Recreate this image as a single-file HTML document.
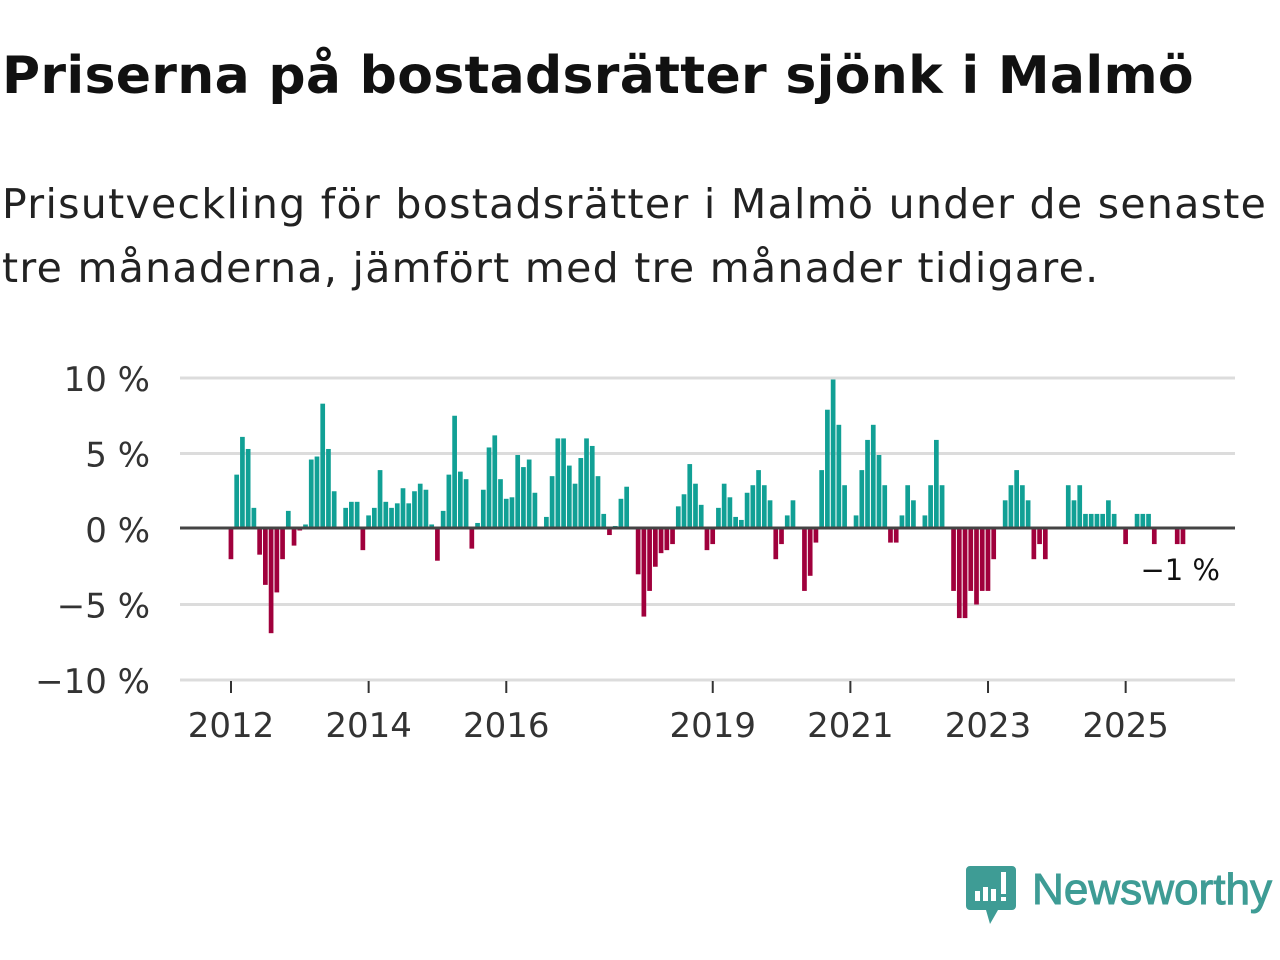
<!DOCTYPE html>
<html><head><meta charset="utf-8">
<style>
body{margin:0;width:1280px;height:960px;background:#fff;overflow:hidden;font-family:"DejaVu Sans","Liberation Sans",sans-serif;}
#title{position:absolute;left:2px;top:44px;font-size:52px;font-weight:bold;color:#111;letter-spacing:0.3px;white-space:nowrap;margin:0;line-height:64px}
#sub{position:absolute;left:2px;top:172px;font-size:41px;line-height:64px;color:#222;white-space:nowrap;margin:0;letter-spacing:1.3px}
svg{position:absolute;left:0;top:0}
</style></head><body>
<h1 id="title">Priserna på bostadsrätter sjönk i Malmö</h1>
<p id="sub">Prisutveckling för bostadsrätter i Malmö under de senaste<br>tre månaderna, jämfört med tre månader tidigare.</p>
<svg id="chart" width="1280" height="960"></svg>
<script>
const startYear = 2012;
const values = [
-2,3.6,6.1,5.3,1.4,-1.7,-3.7,-6.9,-4.2,-2,1.2,-1.1,
-0.1,0.3,4.6,4.8,8.3,5.3,2.5,0,1.4,1.8,1.8,-1.4,
0.9,1.4,3.9,1.8,1.4,1.7,2.7,1.7,2.5,3.0,2.6,0.3,
-2.1,1.2,3.6,7.5,3.8,3.3,-1.3,0.4,2.6,5.4,6.2,3.3,
2.0,2.1,4.9,4.1,4.6,2.4,0,0.8,3.5,6.0,6.0,4.2,
3.0,4.7,6.0,5.5,3.5,1.0,-0.4,0.2,2.0,2.8,0,-3,
-5.8,-4.1,-2.5,-1.6,-1.4,-1.0,1.5,2.3,4.3,3.0,1.6,-1.4,
-1.0,1.4,3.0,2.1,0.8,0.6,2.4,2.9,3.9,2.9,1.9,-2,
-1,0.9,1.9,0,-4.1,-3.1,-0.9,3.9,7.9,9.9,6.9,2.9,
0,0.9,3.9,5.9,6.9,4.9,2.9,-0.9,-0.9,0.9,2.9,1.9,
0,0.9,2.9,5.9,2.9,0,-4.1,-5.9,-5.9,-4.1,-5.0,-4.1,
-4.1,-2.0,0,1.9,2.9,3.9,2.9,1.9,-2,-1,-2,0,
0,0,2.9,1.9,2.9,1,1,1,1,1.9,1,0,
-1,0,1,1,1,-1,0,0,0,-1,-1
];
const yTicks = [10,5,0,-5,-10];
const yTickLabels = ["10 %","5 %","0 %","−5 %","−10 %"];
const xTickYears = [2012,2014,2016,2019,2021,2023,2025];
const lastLabel = "−1 %";

const NS="http://www.w3.org/2000/svg";
const svg=document.getElementById('chart');
const y=v=>529-v*15.1;
const x=m=>231+m*5.735;
function mk(t,a){const e=document.createElementNS(NS,t);for(const k in a)e.setAttribute(k,a[k]);svg.appendChild(e);return e;}
yTicks.forEach((t,i)=>{
  if(t!==0){const g=mk('line',{x1:180,x2:1235,y1:y(t),y2:y(t),stroke:'#dcdcdc','stroke-width':3});
  
  }
  const l=mk('text',{x:150,y:y(t)+13,'text-anchor':'end','font-size':34,fill:'#333','font-family':'DejaVu Sans, Liberation Sans, sans-serif'});
  l.textContent=yTickLabels[i];
  
  
});
values.forEach((v,m)=>{
  const r=mk('rect',{x:x(m)-2.4,width:4.7,y:Math.min(y(v),y(0)),height:Math.abs(y(v)-y(0)),fill:v>=0?'#11a095':'#a0003c'});
  
  
});
const z=mk('line',{x1:180,x2:1235,y1:y(0)-1,y2:y(0)-1,stroke:'#444','stroke-width':3});


xTickYears.forEach(yr=>{
  const px=x((yr-startYear)*12);
  const t=mk('line',{x1:px,x2:px,y1:681,y2:693,stroke:'#333','stroke-width':2});
  
  
  const l=mk('text',{x:px,y:737,'text-anchor':'middle','font-size':34,fill:'#333','font-family':'DejaVu Sans, Liberation Sans, sans-serif'});
  l.textContent=yr;
  
  
});
const ll=mk('text',{x:1220,y:580,'text-anchor':'end','font-size':29,fill:'#111','font-family':'DejaVu Sans, Liberation Sans, sans-serif'});
ll.textContent=lastLabel;


</script>
<svg width="1280" height="960" style="pointer-events:none">
<path d="M970 866 h42 a4 4 0 0 1 4 4 v36 a4 4 0 0 1 -4 4 h-14 l-8 14 l-4 -14 h-16 a4 4 0 0 1 -4 -4 v-36 a4 4 0 0 1 4 -4z" fill="#3e9c95"/>
<rect x="975" y="891" width="5" height="10" fill="#fff"/><rect x="983" y="887" width="5" height="14" fill="#fff"/><rect x="991" y="889" width="5" height="12" fill="#fff"/><rect x="1001" y="872" width="5" height="22" fill="#fff"/><rect x="1001" y="897" width="5" height="4" fill="#fff"/>
<text x="1032" y="904" font-size="44" fill="#3e9c95" stroke="#3e9c95" stroke-width="1" font-family="Liberation Sans, sans-serif" textLength="240" lengthAdjust="spacingAndGlyphs">Newsworthy</text>
</svg>
</body></html>
